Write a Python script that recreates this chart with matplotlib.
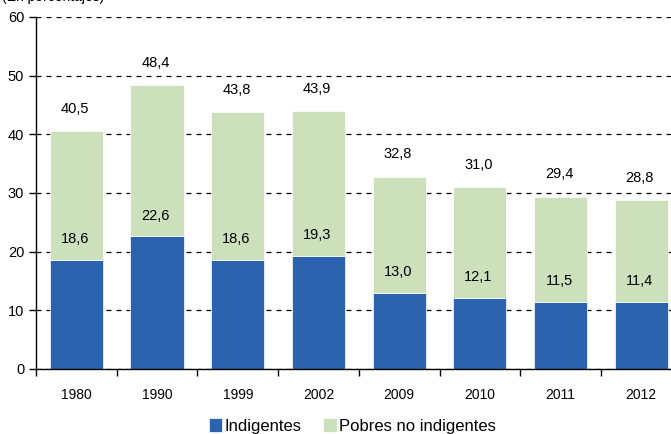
import numpy as np
import matplotlib.pyplot as plt

plt.rcParams['font.family'] = ['Liberation Sans', 'DejaVu Sans']

years = ['1980', '1990', '1999', '2002', '2009', '2010', '2011', '2012']
indigentes = [18.6, 22.6, 18.6, 19.3, 13.0, 12.1, 11.5, 11.4]
pobres_total = [40.5, 48.4, 43.8, 43.9, 32.8, 31.0, 29.4, 28.8]

blue = '#2B63AE'
green = '#CCE0BC'

fig = plt.figure(figsize=(6.71, 4.34), dpi=100)
ax = fig.add_axes([36 / 671, 65 / 434, 645.6 / 671, 352 / 434])

x = np.arange(len(years))
no_indig = [t - i for t, i in zip(pobres_total, indigentes)]
ax.bar(x, indigentes, width=0.66, color=blue, edgecolor='white', linewidth=0.5,
       label='Indigentes', zorder=2)
ax.bar(x, no_indig, width=0.66, bottom=indigentes, color=green, edgecolor='white',
       linewidth=0.5, label='Pobres no indigentes', zorder=2)

def fmt(v):
    return f'{v:.1f}'.replace('.', ',')

for xi, i, t in zip(x, indigentes, pobres_total):
    ax.annotate(fmt(i), (xi, i), xytext=(-1, 15), textcoords='offset points',
                ha='center', va='center', fontsize=10.5, zorder=3)
    ax.annotate(fmt(t), (xi, t), xytext=(-1, 16), textcoords='offset points',
                ha='center', va='center', fontsize=10.5, zorder=3)

ax.set_xlim(-0.5, 7.5)
ax.set_ylim(0, 60)
ax.set_yticks(range(0, 61, 10))
ax.yaxis.grid(True, color='black', linestyle=(0, (4, 4)), linewidth=0.9)
ax.set_axisbelow(True)
ax.set_xticks(x)
ax.set_xticklabels(years, fontsize=10)
ax.set_xticks(np.arange(-0.5, 8, 1), minor=True)
ax.tick_params(axis='x', which='major', length=0, pad=14)
ax.tick_params(axis='x', which='minor', length=5, width=1, color='black')
ax.tick_params(axis='y', labelsize=10.5, length=5, width=1)
for s in ['top', 'right']:
    ax.spines[s].set_visible(False)
ax.spines['left'].set_linewidth(1)
ax.spines['bottom'].set_linewidth(1)

fig.legend(loc='center', bbox_to_anchor=(0.525, 0.018), ncol=2, frameon=False,
           fontsize=12, handlelength=0.8, handleheight=0.9, handletextpad=0.15,
           columnspacing=1.3)

fig.text(0.003, 0.99, '(En porcentajes)', fontsize=10, va='bottom', ha='left')

fig.savefig('out.png', dpi=100)
